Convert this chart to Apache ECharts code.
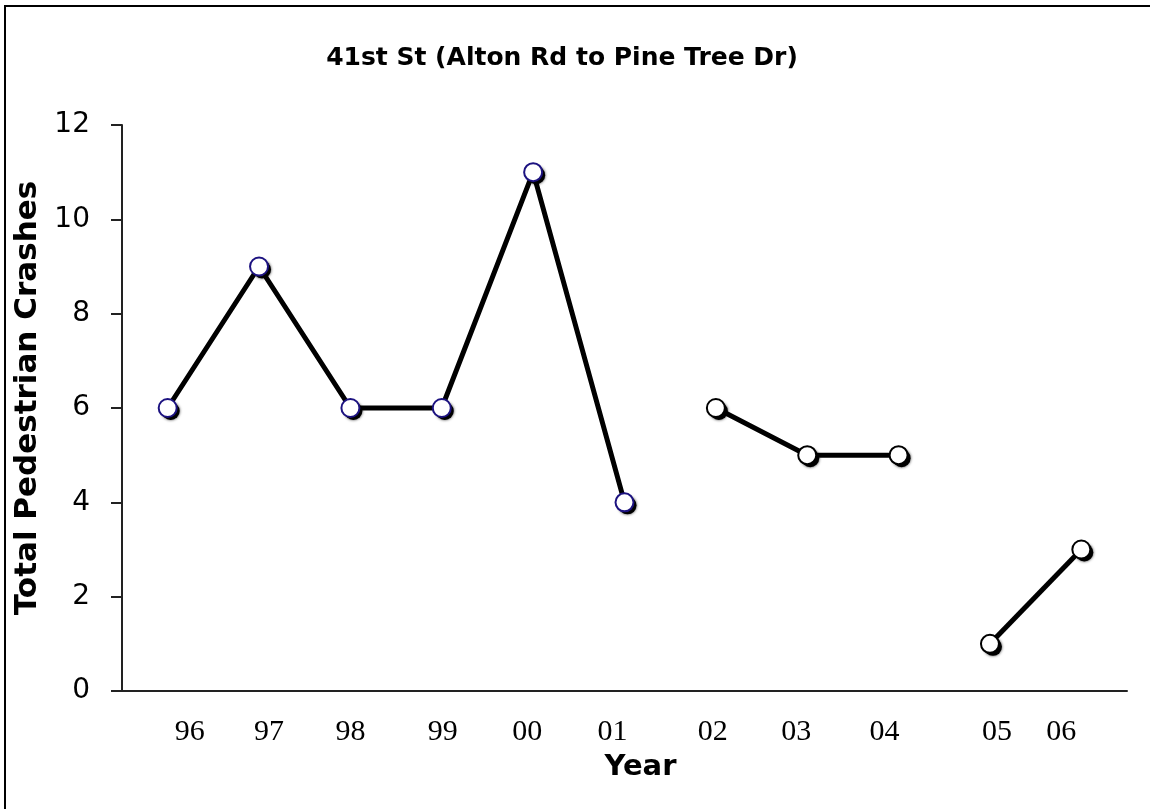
<!DOCTYPE html>
<html>
<head>
<meta charset="utf-8">
<script src="https://cdn.jsdelivr.net/npm/echarts@6/dist/echarts.min.js"></script>
<style>
html,body{margin:0;padding:0;background:#fff;}
#chart{width:1150px;height:809px;}
</style>
</head>
<body>
<div id="chart"></div>
<script>
// ---- data ----
const titleText = '41st St (Alton Rd to Pine Tree Dr)';
const years = ['96','97','98','99','00','01','02','03','04','05','06'];
const crashes = [6, 9, 6, 6, 11, 4, 6, 5, 5, 1, 3];
// connected segments (start index, end index)
const segments = [[0, 5], [6, 8], [9, 10]];
const segmentBorders = ['#1c1280', '#000000', '#000000'];
const yTicks = [0, 2, 4, 6, 8, 10, 12];

// ---- layout (label nudges, px) ----
const labelShift = [22, 10, 0, 1, -6, -12, -3, -11, -14, 7, -20];

const chart = echarts.init(document.getElementById('chart'));

const labelFont = {fontFamily: '"Liberation Serif", "Times New Roman", serif', fontSize: 30, color: '#000'};
const rich = {};
labelShift.forEach((s, i) => {
  rich['o' + i] = Object.assign({}, labelFont, {
    padding: s >= 0 ? [0, 0, 0, 2 * s] : [0, -2 * s, 0, 0]
  });
});

const shadowSeries = segments.map((seg) => ({
  type: 'line',
  data: crashes.map((v, i) => (i >= seg[0] && i <= seg[1]) ? v : null),
  connectNulls: false,
  symbol: 'circle',
  symbolSize: 18,
  symbolOffset: [3, 3],
  lineStyle: {opacity: 0},
  itemStyle: {color: '#000', borderWidth: 0, shadowColor: 'rgba(0,0,0,0.8)', shadowBlur: 3},
  emphasis: {disabled: true},
  silent: true,
  z: 2
}));

const series = segments.map((seg, k) => ({
  type: 'line',
  data: crashes.map((v, i) => (i >= seg[0] && i <= seg[1]) ? v : null),
  connectNulls: false,
  symbol: 'circle',
  symbolSize: 18,
  showSymbol: true,
  lineStyle: {color: '#000', width: 5},
  itemStyle: {
    color: '#fff',
    borderColor: segmentBorders[k],
    borderWidth: 2
  },
  emphasis: {disabled: true},
  z: 3
}));

chart.setOption({
  animation: false,
  backgroundColor: '#fff',
  title: {
    text: titleText,
    left: 557,
    textAlign: 'center',
    top: 41,
    textStyle: {fontFamily: '"DejaVu Sans", Verdana, sans-serif', fontWeight: 'bold', fontSize: 25, color: '#000'}
  },
  grid: {left: 122, right: 23, top: 125, bottom: 118},
  xAxis: {
    type: 'category',
    data: years,
    boundaryGap: true,
    axisLine: {show: true, lineStyle: {color: '#222', width: 2}},
    axisTick: {show: false},
    axisLabel: {
      margin: 26,
      interval: 0,
      formatter: (v, i) => '{o' + i + '|' + v + '}',
      rich: rich
    },
    name: 'Year',
    nameLocation: 'middle',
    nameGap: 62,
    nameTextStyle: {fontFamily: '"DejaVu Sans", Verdana, sans-serif', fontWeight: 'bold', fontSize: 29, color: '#000', padding: [0, 0, 0, 32]}
  },
  yAxis: {
    type: 'value',
    min: yTicks[0],
    max: yTicks[yTicks.length - 1],
    interval: yTicks[1] - yTicks[0],
    axisLine: {show: true, lineStyle: {color: '#222', width: 2}},
    axisTick: {show: true, inside: false, length: 11, lineStyle: {color: '#222', width: 2}},
    splitLine: {show: false},
    axisLabel: {margin: 32, fontFamily: '"DejaVu Sans", Verdana, sans-serif', fontSize: 28, color: '#000'},
    name: 'Total Pedestrian Crashes',
    nameLocation: 'middle',
    nameGap: 68,
    nameTextStyle: {fontFamily: '"DejaVu Sans", Verdana, sans-serif', fontWeight: 'bold', fontSize: 31, color: '#000', padding: [0, 0, 0, 20]}
  },
  graphic: [{
    type: 'rect',
    shape: {x: 5, y: 6, width: 1400, height: 1000},
    style: {fill: null, stroke: '#000', lineWidth: 2},
    silent: true,
    z: 10
  }],
  series: shadowSeries.concat(series)
});
</script>
</body>
</html>
